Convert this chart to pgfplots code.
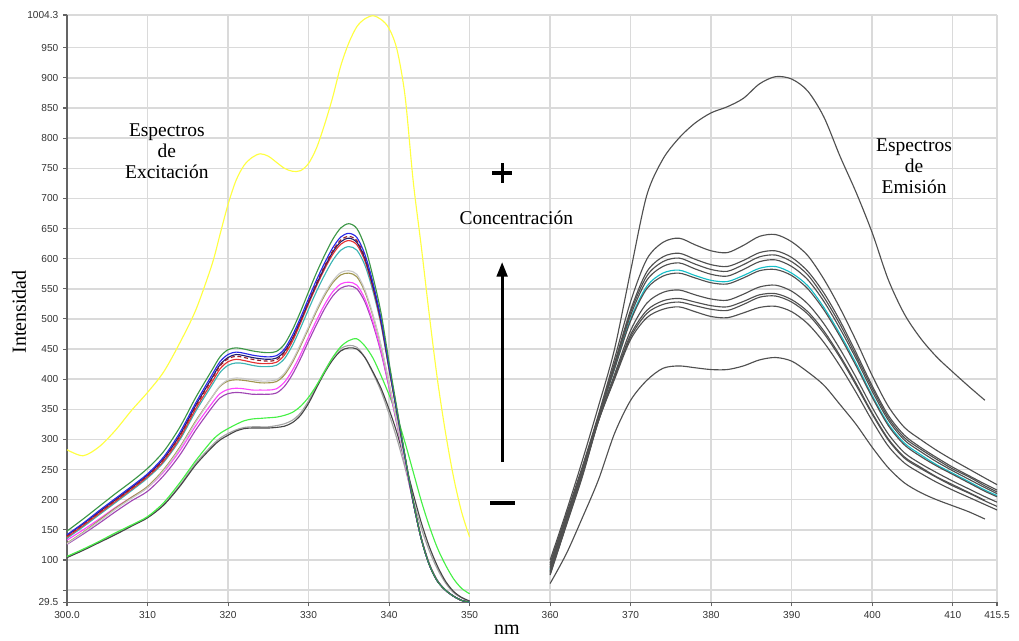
\documentclass[border=0pt]{standalone}
\usepackage{fontspec}
\setmainfont{Liberation Serif}
\newfontfamily\ticksf{Liberation Sans}
\usepackage{pgfplots}
\usepackage{pgfplotstable}
\pgfplotsset{compat=1.18}
\usetikzlibrary{arrows.meta}

\definecolor{cyel}{RGB}{255,255,64}
\definecolor{cgrn}{RGB}{60,150,70}
\definecolor{cblu}{RGB}{40,40,230}
\definecolor{cdrd}{RGB}{150,30,40}
\definecolor{cnav}{RGB}{30,30,110}
\definecolor{cred}{RGB}{230,50,50}
\definecolor{ccya}{RGB}{60,180,180}
\definecolor{clgr}{RGB}{200,200,200}
\definecolor{coli}{RGB}{160,150,80}
\definecolor{cmag}{RGB}{255,70,255}
\definecolor{cpur}{RGB}{160,70,180}
\definecolor{clgy}{RGB}{165,165,165}
\definecolor{cdgr}{RGB}{70,70,70}
\definecolor{clim}{RGB}{70,240,70}
\definecolor{cemi}{RGB}{80,80,80}
\definecolor{cemc}{RGB}{20,190,200}
\definecolor{cgrid}{RGB}{218,218,218}
\definecolor{caxis}{RGB}{100,100,100}

% excitation spectra, 300-350 nm
\pgfplotstableread{
x   yel  grn blu drd nav red cya lgr oli mag pur lgy dgr lim
300 283  148 142 140 141 138 136 127 128 133 126 105 104 106
302 273  168 161 159 160 157 155 145 146 150 143 117 116 118
304 288  189 182 179 180 177 175 164 166 168 161 130 129 131
306 315  210 202 199 200 197 195 184 186 187 180 143 142 145
308 348  230 222 219 220 217 215 202 204 204 198 157 156 158
310 378  252 243 240 241 238 236 220 222 220 214 171 170 172
312 412  280 271 267 268 264 262 248 250 246 240 192 191 195
314 460  320 311 306 307 302 299 285 287 281 274 224 222 228
316 515  370 361 355 357 351 347 329 331 323 316 261 258 265
318 590  415 407 400 402 395 390 370 370 360 353 290 287 298
319 640  437 429 422 424 417 411 389 388 376 369 302 299 310
320 690  449 441 434 436 429 423 399 397 383 376 310 307 318
321 730  452 445 438 441 433 427 402 399 385 378 316 314 325
322 755  450 443 436 439 431 426 401 398 384 377 320 318 331
323 768  447 440 433 436 428 423 399 396 382 375 321 319 334
324 774  445 438 431 434 426 421 397 394 382 375 321 319 335
325 770  444 437 430 433 426 421 397 394 382 375 321 319 336
326 760  446 439 432 435 428 423 399 396 384 377 323 320 337
327 750  458 450 444 446 440 434 410 407 395 388 326 322 340
328 745  482 473 467 468 463 456 431 428 415 408 332 328 345
329 746  512 502 497 497 493 485 458 455 441 434 344 340 355
330 758  545 534 529 528 525 516 487 484 470 463 364 360 370
331 784  577 565 560 558 555 546 516 513 498 491 389 386 390
332 823  606 593 588 586 583 573 542 539 524 517 414 411 413
333 868  632 618 613 611 607 597 563 560 545 538 436 432 436
334 920  651 636 631 628 624 614 577 573 558 551 451 447 454
335 958  658 642 637 634 630 620 580 576 561 555 456 452 464
336 985  650 635 630 627 623 614 574 570 556 550 453 450 467
337 998  620 607 603 600 596 589 548 545 533 528 436 436 455
338 1003 570 560 557 554 551 546 507 505 495 491 410 412 435
339 997  510 500 498 496 493 490 456 455 447 444 380 385 406
340 982  428 422 421 419 417 416 393 393 388 386 342 350 374
341 946  350 346 345 344 343 342 327 328 325 323 300 310 338
342 868  272 270 270 269 269 268 261 262 260 259 252 262 294
343 728  197 196 196 196 196 196 195 196 195 195 200 210 246
344 620  135 135 135 135 135 135 136 137 136 136 153 162 198
345 506  92  92  92  92  92  92  93  94  93  93  115 122 156
346 400  65  65  65  65  65  65  66  66  66  66  85  90  120
347 312  50  50  50  50  50  50  50  50  50  50  62  65  92
348 238  40  40  40  40  40  40  40  40  40  40  46  48  69
349 180  33  33  33  33  33  33  33  33  33  33  37  38  53
350 138  30  30  30  30  30  30  30  30  30  30  31  32  44
}\exc

% emission spectra, 360-415.5 nm
\pgfplotstableread{
x     top A   B   C   D   E   F   G   H   I   J   low
360   100 95  92  88  86  84  82  80  78  76  75  61
362   180 175 172 170 168 166 165 162 160 158 157 110
364   265 255 252 250 248 246 245 243 242 240 238 170
366   355 341 339 338 337 336 336 333 331 331 330 233
368   450 434 427 424 422 418 417 408 404 402 400 310
370   580 529 515 511 506 500 497 481 474 470 466 365
372   705 599 578 571 564 554 550 526 514 509 502 398
374   765 627 603 595 587 576 571 544 530 524 516 418
376   800 634 609 601 593 581 576 548 534 528 520 422
378   825 623 599 591 583 572 568 540 528 522 512 419
380   842 613 590 582 574 564 560 533 522 516 504 416
382   852 610 587 579 571 562 558 531 520 514 502 416
384   866 622 597 590 582 572 568 541 529 524 510 422
386   890 637 610 603 595 584 580 553 540 536 519 432
388   902 640 613 606 598 587 582 556 542 538 521 436
390   898 628 602 595 587 576 572 546 532 528 512 430
392   878 605 579 573 565 555 550 525 512 508 492 412
394   835 566 543 536 529 519 515 492 480 476 461 390
396   770 518 497 491 484 475 471 450 439 436 422 358
398   710 464 444 439 434 426 422 403 393 390 378 325
400   643 406 389 385 380 373 370 353 344 342 331 287
402   565 355 340 336 332 326 323 309 301 299 289 253
404   508 320 307 303 299 294 291 278 271 269 261 228
406   468 300 287 284 280 275 272 260 254 252 244 212
408   437 282 270 267 263 258 256 245 238 237 229 200
410   412 266 254 251 248 244 242 231 225 223 216 190
412   388 251 240 238 234 230 228 218 212 211 204 180
414   365 236 226 223 220 216 214 205 199 198 192 168
415.5 nan 225 216 213 210 207 205 196 nan 189 183 nan
}\emi

\begin{document}
\begin{tikzpicture}
\useasboundingbox (0pt,0pt) rectangle (764.25pt,480.75pt);
\begin{axis}[
  at={(50.25pt,28.875pt)}, anchor=south west,
  scale only axis, width=697.5pt, height=440.625pt,
  xmin=300, xmax=415.5, ymin=29.5, ymax=1004.3,
  axis x line=bottom, axis y line=left,
  axis line style={-, color=caxis, line width=1.4pt},
  xtick={300,310,320,330,340,350,360,370,380,390,400,410,415.5},
  xticklabels={300.0,310,320,330,340,350,360,370,380,390,400,410,415.5},
  ytick={29.5,50,100,150,200,250,300,350,400,450,500,550,600,650,700,750,800,850,900,950,1004.3},
  yticklabels={29.5,,100,150,200,250,300,350,400,450,500,550,600,650,700,750,800,850,900,950,1004.3},
  grid=major, major grid style={cgrid, line width=1.1pt},
  tick align=outside, major tick length=3pt,
  tick style={caxis, line width=0.8pt},
  ticklabel style={font=\ticksf\fontsize{7.6}{8}\selectfont, text=black!80},
  xlabel={nm}, ylabel={Intensidad},
  label style={font=\fontsize{15}{16}\selectfont},
  xlabel style={at={(axis description cs:0.473,0)}, anchor=center, yshift=-20.6pt},
  ylabel style={at={(axis description cs:-0.0516,0.4945)}, anchor=center},
  clip=false,
  every axis plot/.append style={smooth, no markers, line width=0.85pt},
]
% excitation
\addplot[cyel] table[y=yel]{\exc};
\addplot[clgy] table[y=lgy]{\exc};
\addplot[cdgr] table[y=dgr]{\exc};
\addplot[clim] table[y=lim]{\exc};
\addplot[cpur] table[y=pur]{\exc};
\addplot[cmag] table[y=mag]{\exc};
\addplot[coli] table[y=oli]{\exc};
\addplot[clgr] table[y=lgr]{\exc};
\addplot[ccya] table[y=cya]{\exc};
\addplot[cred] table[y=red]{\exc};
\addplot[cnav] table[y=nav]{\exc};
\addplot[cdrd, densely dashed] table[y=drd]{\exc};
\addplot[cblu] table[y=blu]{\exc};
\addplot[cgrn] table[y=grn]{\exc};
% emission
\addplot[cemc] table[y=E]{\emi};
\addplot[cemi] table[y=top]{\emi};
\addplot[cemi] table[y=A]{\emi};
\addplot[cemi] table[y=B]{\emi};
\addplot[cemi] table[y=C]{\emi};
\addplot[cemi] table[y=D]{\emi};
\addplot[cemi] table[y=F]{\emi};
\addplot[cemi] table[y=G]{\emi};
\addplot[cemi] table[y=H]{\emi};
\addplot[cemi] table[y=I]{\emi};
\addplot[cemi] table[y=J]{\emi};
\addplot[cemi] table[y=low]{\emi};

% annotations
\node[align=center, font=\fontsize{14.6}{15.8}\selectfont] at (axis cs:312.4,778.6) {Espectros\\de\\Excitación};
\node[align=center, font=\fontsize{14.6}{15.8}\selectfont] at (axis cs:405.2,753.7) {Espectros\\de\\Emisión};
\node[font=\fontsize{14.6}{16}\selectfont] at (axis cs:355.8,667.5) {Concentración};
% plus sign
\draw[line width=2.4pt] (axis cs:352.8,742) -- (axis cs:355.3,742);
\draw[line width=2.4pt] (axis cs:354.04,758.7) -- (axis cs:354.04,725.5);
\draw[line width=2.2pt, -{Triangle[length=11pt,width=8pt]}] (axis cs:354.04,262.6) -- (axis cs:354.04,594.4);
% minus sign
\draw[line width=2.6pt] (axis cs:352.55,194.6) -- (axis cs:355.65,194.6);
\end{axis}
\end{tikzpicture}
\end{document}
